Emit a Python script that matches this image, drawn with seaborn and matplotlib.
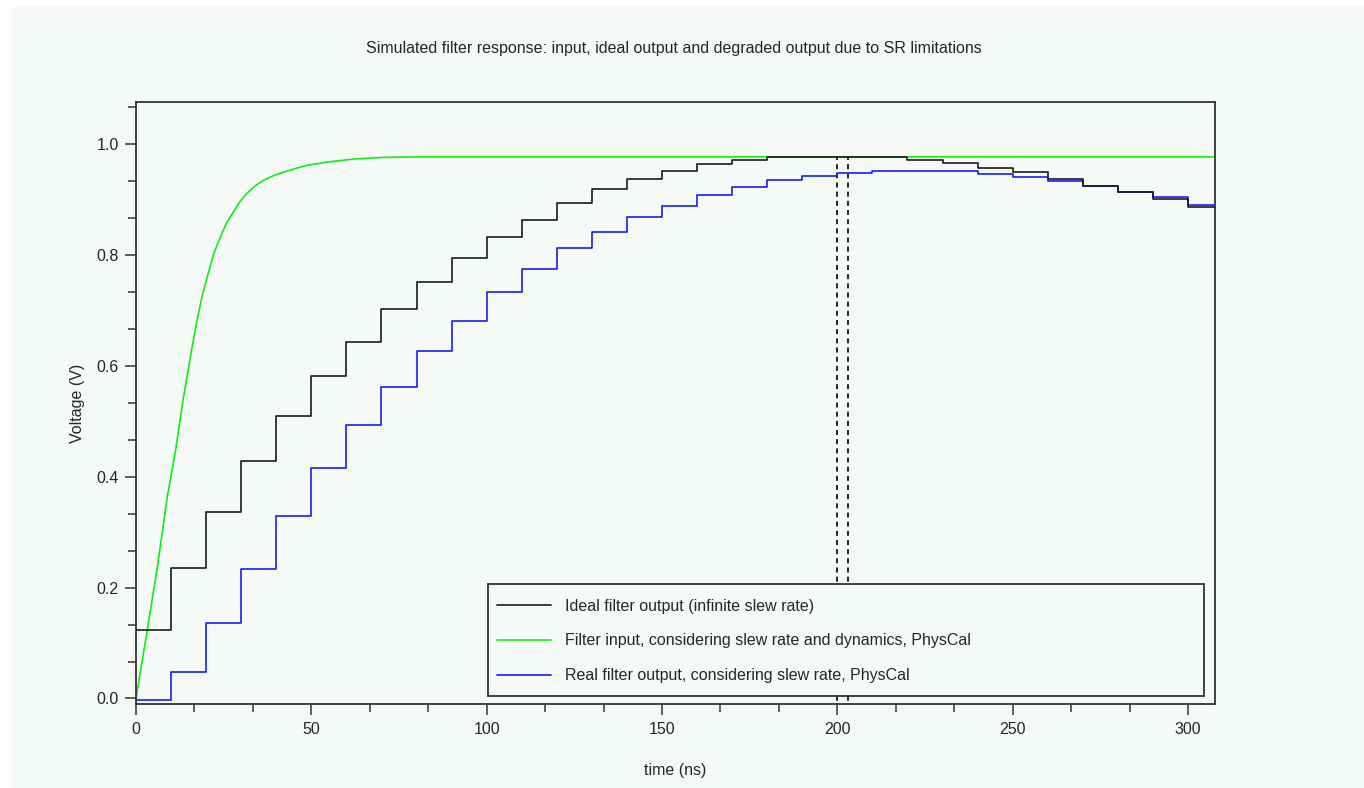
import numpy as np
import pandas as pd
import matplotlib
matplotlib.use('Agg')
import matplotlib.pyplot as plt
from matplotlib.patches import Rectangle
from matplotlib.ticker import MultipleLocator, FormatStrFormatter
import seaborn as sns

# tiempos de los escalones (ns), uno por muestra
step_t = [0, 10, 20, 30, 40, 50, 60, 70, 80, 90, 100, 110, 120, 130, 140, 150,
          160, 170, 180, 190, 200, 210, 220, 230, 240, 250, 260, 270, 280, 290, 300, 310]

# salida ideal (slew rate infinito)
ideal_out = [0.123, 0.235, 0.337, 0.429, 0.510, 0.582, 0.643, 0.703, 0.752, 0.795,
             0.832, 0.863, 0.894, 0.919, 0.937, 0.951, 0.964, 0.971, 0.977, 0.977,
             0.977, 0.977, 0.972, 0.966, 0.957, 0.949, 0.937, 0.924, 0.913, 0.901,
             0.887, 0.887]

# salida real (con slew rate)
real_out = [-0.003, 0.048, 0.136, 0.233, 0.329, 0.415, 0.493, 0.562, 0.627, 0.681,
            0.733, 0.774, 0.812, 0.842, 0.869, 0.889, 0.909, 0.922, 0.936, 0.943,
            0.948, 0.951, 0.951, 0.951, 0.946, 0.940, 0.933, 0.925, 0.914, 0.904,
            0.890, 0.890]

# entrada del filtro (curva continua)
input_t = [0, 3.2, 6.1, 8.9, 11.3, 13.4, 16.0, 17.4, 18.8, 20.3, 22.2, 24.5, 26.0,
           27.8, 29.6, 31.6, 34.0, 36.4, 39.5, 43.4, 46.0, 49.0, 55.0, 62.0, 70.0,
           80.0, 310]
input_v = [0, 0.123, 0.237, 0.363, 0.448, 0.538, 0.634, 0.682, 0.724, 0.760, 0.803,
           0.839, 0.860, 0.878, 0.896, 0.911, 0.925, 0.935, 0.944, 0.952, 0.957,
           0.962, 0.968, 0.973, 0.976, 0.977, 0.977]

# lineas verticales punteadas
vlines_t = [200, 203]
vline_top = 0.977

labels = ['Ideal filter output (infinite slew rate)',
          'Filter input, considering slew rate and dynamics, PhysCal',
          'Real filter output, considering slew rate, PhysCal']

bg = '#f5faf7'
sns.set_style('ticks')
plt.rcParams['font.family'] = ['Liberation Sans', 'DejaVu Sans']
plt.rcParams['font.size'] = 11.5

df_steps = pd.DataFrame({'t': step_t, 'ideal': ideal_out, 'real': real_out})
df_in = pd.DataFrame({'t': input_t, 'v': input_v})

fig = plt.figure(figsize=(13.64, 7.88), dpi=100, facecolor='white')
fig.patches.append(Rectangle((12 / 1364, 0), 1, 1 - 7 / 788, transform=fig.transFigure,
                             facecolor=bg, edgecolor='none', zorder=-10))
ax = fig.add_axes([136 / 1364, 1 - 704 / 788, 1079 / 1364, 602 / 788])
ax.set_facecolor(bg)

sns.lineplot(data=df_in, x='t', y='v', ax=ax, color='#11ee11', lw=1.2, sort=False,
             label=labels[1], zorder=2)
sns.lineplot(data=df_steps, x='t', y='real', ax=ax, color='#1a1aff', lw=1.2,
             drawstyle='steps-post', label=labels[2], zorder=3)
sns.lineplot(data=df_steps, x='t', y='ideal', ax=ax, color='#1a1a1a', lw=1.2,
             drawstyle='steps-post', label=labels[0], zorder=4)

for xv in vlines_t:
    ax.plot([xv, xv], [-0.02, vline_top], color='black', lw=1.2, ls=(0, (3, 2.5)), zorder=1)

ax.set_xlim(0, 307.7)
ax.set_ylim(-0.01, 1.076)
ax.xaxis.set_major_locator(MultipleLocator(50))
ax.xaxis.set_minor_locator(MultipleLocator(50 / 3))
ax.yaxis.set_major_locator(MultipleLocator(0.2))
ax.yaxis.set_minor_locator(MultipleLocator(0.2 / 3))
ax.yaxis.set_major_formatter(FormatStrFormatter('%.1f'))
ax.tick_params(which='major', length=8, width=1.1, color='#333333', pad=5, labelsize=11.5)
ax.tick_params(which='minor', length=5.8, width=1.1, color='#333333')
ax.tick_params(axis='y', pad=4.5)
for s in ax.spines.values():
    s.set_color('#333333')
    s.set_linewidth(1.3)

ax.set_xlabel('time (ns)', fontsize=11.5, labelpad=19)
ax.set_ylabel('Voltage (V)', fontsize=11.5, labelpad=8)
fig.text(0.494, 1 - 48 / 788, 'Simulated filter response: input, ideal output and degraded output due to SR limitations',
         ha='center', va='center', fontsize=11.5)

# caja de la leyenda dibujada a mano
ax.add_patch(Rectangle((0.3262, 0.0133), 0.6636, 0.186, transform=ax.transAxes,
                       facecolor=bg, edgecolor='#333333', lw=1.3, zorder=9))

handles, lbls = ax.get_legend_handles_labels()
order = [lbls.index(l) for l in labels]
leg = ax.legend([handles[i] for i in order], [lbls[i] for i in order],
                loc='upper left', bbox_to_anchor=(0.3346, 0.1752),
                frameon=False, fontsize=11.5, handlelength=3.375, handletextpad=0.9,
                labelspacing=1.25, borderpad=0, borderaxespad=0)
leg.set_zorder(10)

fig.savefig('out.png', dpi=100, facecolor=fig.get_facecolor())
